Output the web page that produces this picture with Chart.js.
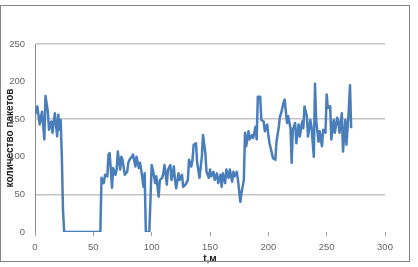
<!DOCTYPE html>
<html>
<head>
<meta charset="utf-8">
<script src="https://cdn.jsdelivr.net/npm/chart.js@4/dist/chart.umd.min.js"></script>
<style>
  html, body { margin: 0; padding: 0; background: #fff; }
  #wrap { position: relative; width: 418px; height: 267px; }
  #frame { position: absolute; left: 0; top: 5px; width: 408px; height: 255px; border: 1.5px solid #858585; pointer-events: none; }
  canvas { position: absolute; left: 0; top: 0; }
</style>
</head>
<body>
<div id="wrap">
  <canvas id="chart" width="418" height="267"></canvas>
  <div id="frame"></div>
</div>
<script>
// --- Data ---
const timeVals = [
  0, 2, 4, 6, 8, 9, 11, 12, 14, 15, 17, 19, 20, 21, 22, 23, 24, 25,
  56, 57, 59, 60, 62, 63, 64, 65, 66, 67, 69, 70, 71, 73, 74, 75, 77, 79, 80, 81, 83, 84,
  86, 87, 89, 90, 91, 93, 94, 95, 98,
  100, 101, 103, 104, 106, 107, 109, 110, 111, 113, 114, 116, 117, 119, 120, 121, 123, 124,
  126, 127, 129, 131, 132, 134, 135, 136, 138, 139, 141, 143, 144, 146, 147, 149,
  150, 151, 153, 154, 156, 157, 159, 160, 161, 163, 164, 166, 167, 169, 170, 171, 173, 174,
  176, 177, 179, 180, 181, 183, 184, 186, 187, 189, 190, 191, 193, 194, 196, 197, 199,
  200, 201, 203, 204, 206, 207, 209, 210, 211, 213, 214, 216, 217, 219, 220, 221, 223, 224,
  226, 227, 229, 230, 231, 233, 234, 236, 237, 239, 240, 241, 243, 244, 246, 247, 249,
  250, 251, 253, 254, 256, 257, 259, 260, 261, 263, 264, 266, 267, 269, 270, 271
];
const packetVals = [
  156, 167, 143, 160, 123, 181, 160, 136, 147, 132, 158, 127, 156, 136, 149, 100, 29, 0,
  0, 72, 65, 76, 74, 103, 105, 83, 59, 85, 76, 83, 107, 83, 100, 96, 76, 80, 92, 96, 100, 103,
  87, 100, 85, 92, 83, 60, 78, 0, 0,
  89, 83, 65, 74, 47, 69, 72, 78, 89, 63, 83, 89, 69, 87, 69, 58, 78, 69,
  76, 60, 63, 69, 96, 87, 96, 116, 118, 92, 72, 100, 129, 105, 80, 72,
  83, 74, 80, 69, 78, 65, 76, 60, 78, 65, 83, 72, 83, 67, 80, 74, 80, 69,
  40, 52, 69, 132, 114, 134, 123, 129, 125, 140, 123, 180, 180, 149, 147, 134, 143,
  129, 118, 105, 98, 96, 120, 140, 154, 158, 172, 176, 145, 154, 138, 92, 136, 145, 118,
  143, 127, 147, 138, 167, 154, 127, 149, 140, 100, 197, 149, 120, 134, 114, 136, 132,
  183, 165, 167, 123, 149, 132, 152, 147, 132, 158, 107, 149, 116, 163, 195, 138
];
const yTitle = "количество пакетов";
const xTitle = "t,м";

const points = timeVals.map((t, i) => ({ x: t, y: packetVals[i] }));

const tickFont = { family: "'Liberation Sans', Arial, sans-serif", size: 9.5 };
const titleFont = { family: "'Liberation Sans', Arial, sans-serif", size: 10, weight: "bold" };

new Chart(document.getElementById("chart"), {
  type: "line",
  data: {
    datasets: [{
      data: points,
      borderColor: "#4a7ebb",
      borderWidth: 2.5,
      borderJoinStyle: "round",
      pointRadius: 0,
      tension: 0,
      fill: false
    }]
  },
  options: {
    responsive: false,
    animation: false,
    layout: { padding: { top: 44, right: 33, left: 0, bottom: 0 } },
    plugins: { legend: { display: false }, tooltip: { enabled: false } },
    scales: {
      x: {
        type: "linear",
        min: 0, max: 300,
        afterFit: s => { s.height = 35; },
        ticks: { stepSize: 50, color: "#666", font: tickFont, padding: 6, maxRotation: 0 },
        grid: { drawOnChartArea: false, drawTicks: true, tickLength: 4, color: "#a0a0a0" },
        border: { display: false },
        title: { display: true, text: xTitle, color: "#222", font: titleFont, padding: { top: 0, bottom: 1.5 } }
      },
      y: {
        min: 0, max: 250,
        afterFit: s => { s.width = 35; },
        ticks: { stepSize: 50, color: "#666", font: tickFont, padding: 10 },
        grid: {
          drawTicks: false,
          lineWidth: 1.5,
          color: ctx => (ctx.tick && ctx.tick.value % 100 === 50) ? "#c4c4c4" : "rgba(0,0,0,0)"
        },
        border: { display: true, color: "#8a8a8a", width: 1 },
        title: { display: true, text: yTitle, color: "#222", font: titleFont, padding: { top: 4.5, bottom: 0 } }
      }
    }
  }
});
</script>
</body>
</html>
